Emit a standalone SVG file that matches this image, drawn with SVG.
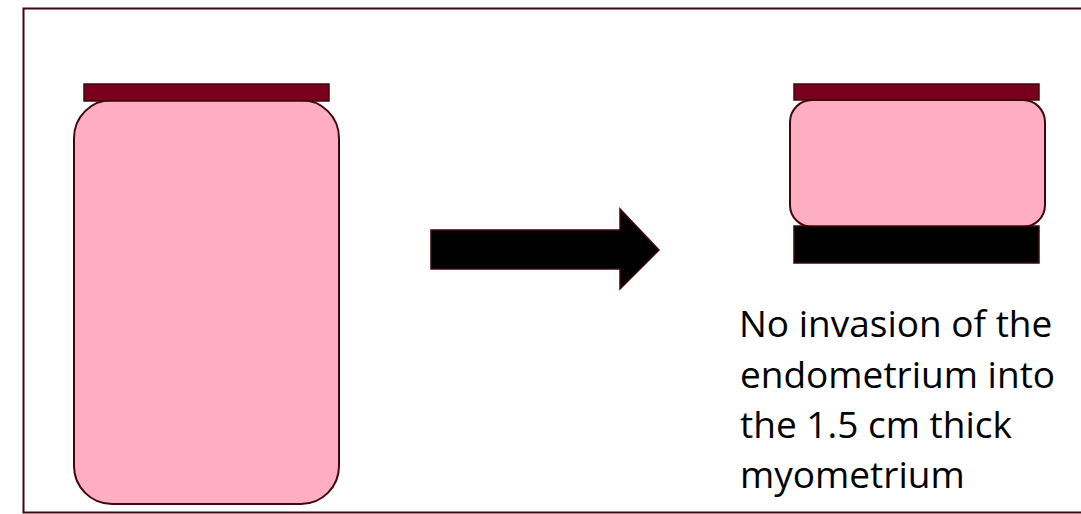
<svg xmlns="http://www.w3.org/2000/svg" width="1081" height="514" viewBox="0 0 1081 514">
<style>
.jar{fill:#FFADC0;stroke:#3F0710;stroke-width:2}
.cap{fill:#78001A;stroke:#3F0710;stroke-width:1.5}
.base{fill:#000000;stroke:#3F0710;stroke-width:1.5}
.lbl{font-family:"Open Sans","Noto Sans",sans-serif;font-size:37px;fill:#000000}
</style>
<rect x="0" y="0" width="1081" height="514" fill="#FFFFFF"/>
<rect id="frame" x="23.5" y="8.5" width="1070" height="504" fill="none" stroke="#3F0710" stroke-width="2"/>
<g id="jar-before">
<rect class="jar" x="74" y="100" width="265" height="404" rx="38" ry="38"/>
<rect class="cap" x="84" y="84" width="245" height="17"/>
</g>
<g id="connectors">
<polygon points="431,230 620,230 620,209 659,250 620,289 620,269 431,269" fill="#000000" stroke="#3F0710" stroke-width="1.5"/>
</g>
<g id="jar-after">
<rect class="jar" x="790" y="100" width="255" height="127" rx="22" ry="22"/>
<rect class="cap" x="794" y="84" width="245" height="16"/>
<rect class="base" x="794" y="226" width="245" height="37"/>
</g>
<g id="caption">
<text class="lbl" x="739" y="337">No invasion of the</text>
<text class="lbl" x="740" y="388">endometrium into</text>
<text class="lbl" x="740" y="438">the 1.5 cm thick</text>
<text class="lbl" x="740" y="488">myometrium</text>
</g>
</svg>
